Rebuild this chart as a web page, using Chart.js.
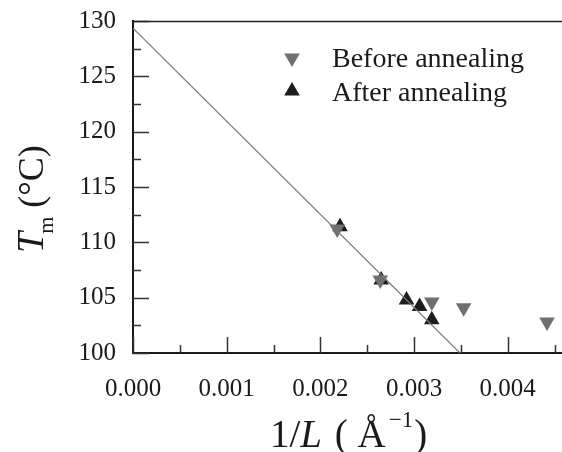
<!DOCTYPE html>
<html>
<head>
<meta charset="utf-8">
<script src="https://cdn.jsdelivr.net/npm/chart.js@4/dist/chart.umd.min.js"></script>
<style>
  html, body { margin: 0; padding: 0; background: #fff; }
  #wrap { width: 562px; height: 452px; }
</style>
</head>
<body>
<div id="wrap"><canvas id="grafico" width="562" height="452"></canvas></div>
<script>
// datos leidos: 1/L (Å^-1) vs Tm (°C)
const invLAntes = [0.00218, 0.00264, 0.00319, 0.00353, 0.00442];
const tmAntes = [111.2, 106.6, 104.6, 104.1, 102.8];

const invLDespues = [0.00221, 0.00265, 0.00292, 0.00306, 0.00319];
const tmDespues = [111.4, 106.6, 104.8, 104.2, 103.0];

// recta de ajuste (extremos)
const ajusteX = [0.0, 0.00349];
const ajusteY = [129.35, 100.0];

const ticksX = [0.000, 0.001, 0.002, 0.003, 0.004];
const ticksY = [100, 105, 110, 115, 120, 125, 130];

const etiquetas = ["Before annealing", "After annealing"];

const fuente = "'Liberation Serif', 'Times New Roman', serif";
const grisAntes = '#6f6f6f';
const negroDespues = '#1d1d1d';

const aPuntos = (xs, ys) => xs.map((x, i) => ({ x: x, y: ys[i] }));

// ticks hacia adentro, marco superior, leyenda y titulos de ejes
const decoracion = {
  id: 'decoracion',
  afterDraw(chart) {
    const ctx = chart.ctx;
    const area = chart.chartArea;
    const sx = chart.scales.x;
    const sy = chart.scales.y;

    ctx.save();
    ctx.strokeStyle = '#333';
    ctx.lineWidth = 1.5;
    ctx.beginPath();
    for (let v = 0; v <= 0.0046; v += 0.0005) {
      const px = Math.round(sx.getPixelForValue(v)) + 0.5;
      const mayor = Math.abs(v / 0.001 - Math.round(v / 0.001)) < 1e-6;
      ctx.moveTo(px, area.bottom);
      ctx.lineTo(px, area.bottom - (mayor ? 16 : 8));
    }
    for (let v = 100; v <= 130; v += 2.5) {
      const py = Math.round(sy.getPixelForValue(v)) + 0.5;
      const mayor = v % 5 === 0;
      ctx.moveTo(area.left, py);
      ctx.lineTo(area.left + (mayor ? 16 : 8), py);
    }
    ctx.stroke();

    // marco superior
    ctx.lineWidth = 1.5;
    ctx.strokeStyle = '#222';
    ctx.beginPath();
    ctx.moveTo(area.left, area.top + 0.5);
    ctx.lineTo(chart.width, area.top + 0.5);
    ctx.stroke();

    // leyenda
    const estilos = [
      { color: grisAntes, rot: 180 },
      { color: negroDespues, rot: 0 }
    ];
    ctx.font = '28px ' + fuente;
    ctx.textBaseline = 'alphabetic';
    ctx.textAlign = 'left';
    etiquetas.forEach((txt, i) => {
      const yMarca = 58 + i * 33;
      ctx.fillStyle = estilos[i].color;
      ctx.strokeStyle = estilos[i].color;
      Chart.helpers.drawPoint(ctx, {
        pointStyle: 'triangle', radius: 9, rotation: estilos[i].rot, borderWidth: 0
      }, 292, yMarca);
      ctx.fillStyle = '#1a1a1a';
      ctx.fillText(txt, 332, 67 + i * 34);
    });

    // titulo eje x: 1/L ( Å^-1 )
    ctx.fillStyle = '#1a1a1a';
    let x = 270;
    const base = 447;
    ctx.font = '39px ' + fuente;
    ctx.fillText('1/', x, base);
    x += ctx.measureText('1/').width;
    ctx.font = 'italic 39px ' + fuente;
    ctx.fillText('L', x, base);
    x += ctx.measureText('L').width;
    ctx.font = '39px ' + fuente;
    ctx.fillText(' ( Å', x + 3, base);
    x += ctx.measureText(' ( Å').width + 6;
    ctx.font = '23px ' + fuente;
    ctx.fillText('\u22121', x, base - 20);
    x += ctx.measureText('\u22121').width + 1;
    ctx.font = '39px ' + fuente;
    ctx.fillText(')', x, base);

    // titulo eje y: Tm (°C)
    ctx.translate(43, 253);
    ctx.rotate(-Math.PI / 2);
    let y = 0;
    ctx.font = 'italic 38px ' + fuente;
    ctx.fillText('T', y, 0);
    y += ctx.measureText('T').width;
    ctx.font = '22px ' + fuente;
    ctx.fillText('m', y - 2, 10);
    y += ctx.measureText('m').width;
    ctx.font = '36px ' + fuente;
    ctx.fillText(' (\u00B0C)', y - 2, 0);
    ctx.restore();
  }
};

const graficoConversion = document.getElementById('grafico');
const graficoChart = new Chart(graficoConversion, {
  type: 'scatter',
  data: {
    datasets: [
      {
        type: 'line',
        label: 'ajuste',
        data: aPuntos(ajusteX, ajusteY),
        borderColor: '#7a7a7a',
        borderWidth: 1.2,
        pointRadius: 0,
        fill: false,
        order: 0
      },
      {
        label: etiquetas[0],
        data: aPuntos(invLAntes, tmAntes),
        pointStyle: 'triangle',
        rotation: 180,
        pointRadius: 9,
        pointBorderWidth: 0,
        backgroundColor: grisAntes,
        borderColor: grisAntes,
        order: 1
      },
      {
        label: etiquetas[1],
        data: aPuntos(invLDespues, tmDespues),
        pointStyle: 'triangle',
        pointRadius: 9,
        pointBorderWidth: 0,
        backgroundColor: negroDespues,
        borderColor: negroDespues,
        order: 2
      }
    ]
  },
  options: {
    responsive: false,
    animation: false,
    layout: { autoPadding: false, padding: { top: 21, right: 0, left: 0, bottom: 0 } },
    plugins: {
      legend: { display: false },
      tooltip: { enabled: false }
    },
    scales: {
      x: {
        type: 'linear',
        min: 0,
        max: 0.00458,
        afterFit: s => { s.height = 99; s.paddingLeft = 0; s.paddingRight = 0; },
        afterBuildTicks: s => { s.ticks = ticksX.map(v => ({ value: v })); },
        grid: { display: false, drawTicks: false },
        border: { display: true, color: '#1a1a1a', width: 2 },
        ticks: {
          padding: 21,
          color: '#1a1a1a',
          font: { family: fuente, size: 25 },
          maxRotation: 0,
          callback: v => v.toFixed(3)
        }
      },
      y: {
        min: 100,
        max: 130,
        afterFit: s => { s.width = 133; s.paddingTop = 0; s.paddingBottom = 0; },
        afterBuildTicks: s => { s.ticks = ticksY.map(v => ({ value: v })); },
        grid: { display: false, drawTicks: false },
        border: { display: true, color: '#1a1a1a', width: 2 },
        ticks: {
          padding: 17,
          color: '#1a1a1a',
          font: { family: fuente, size: 25 }
        }
      }
    }
  },
  plugins: [decoracion]
});
</script>
</body>
</html>
